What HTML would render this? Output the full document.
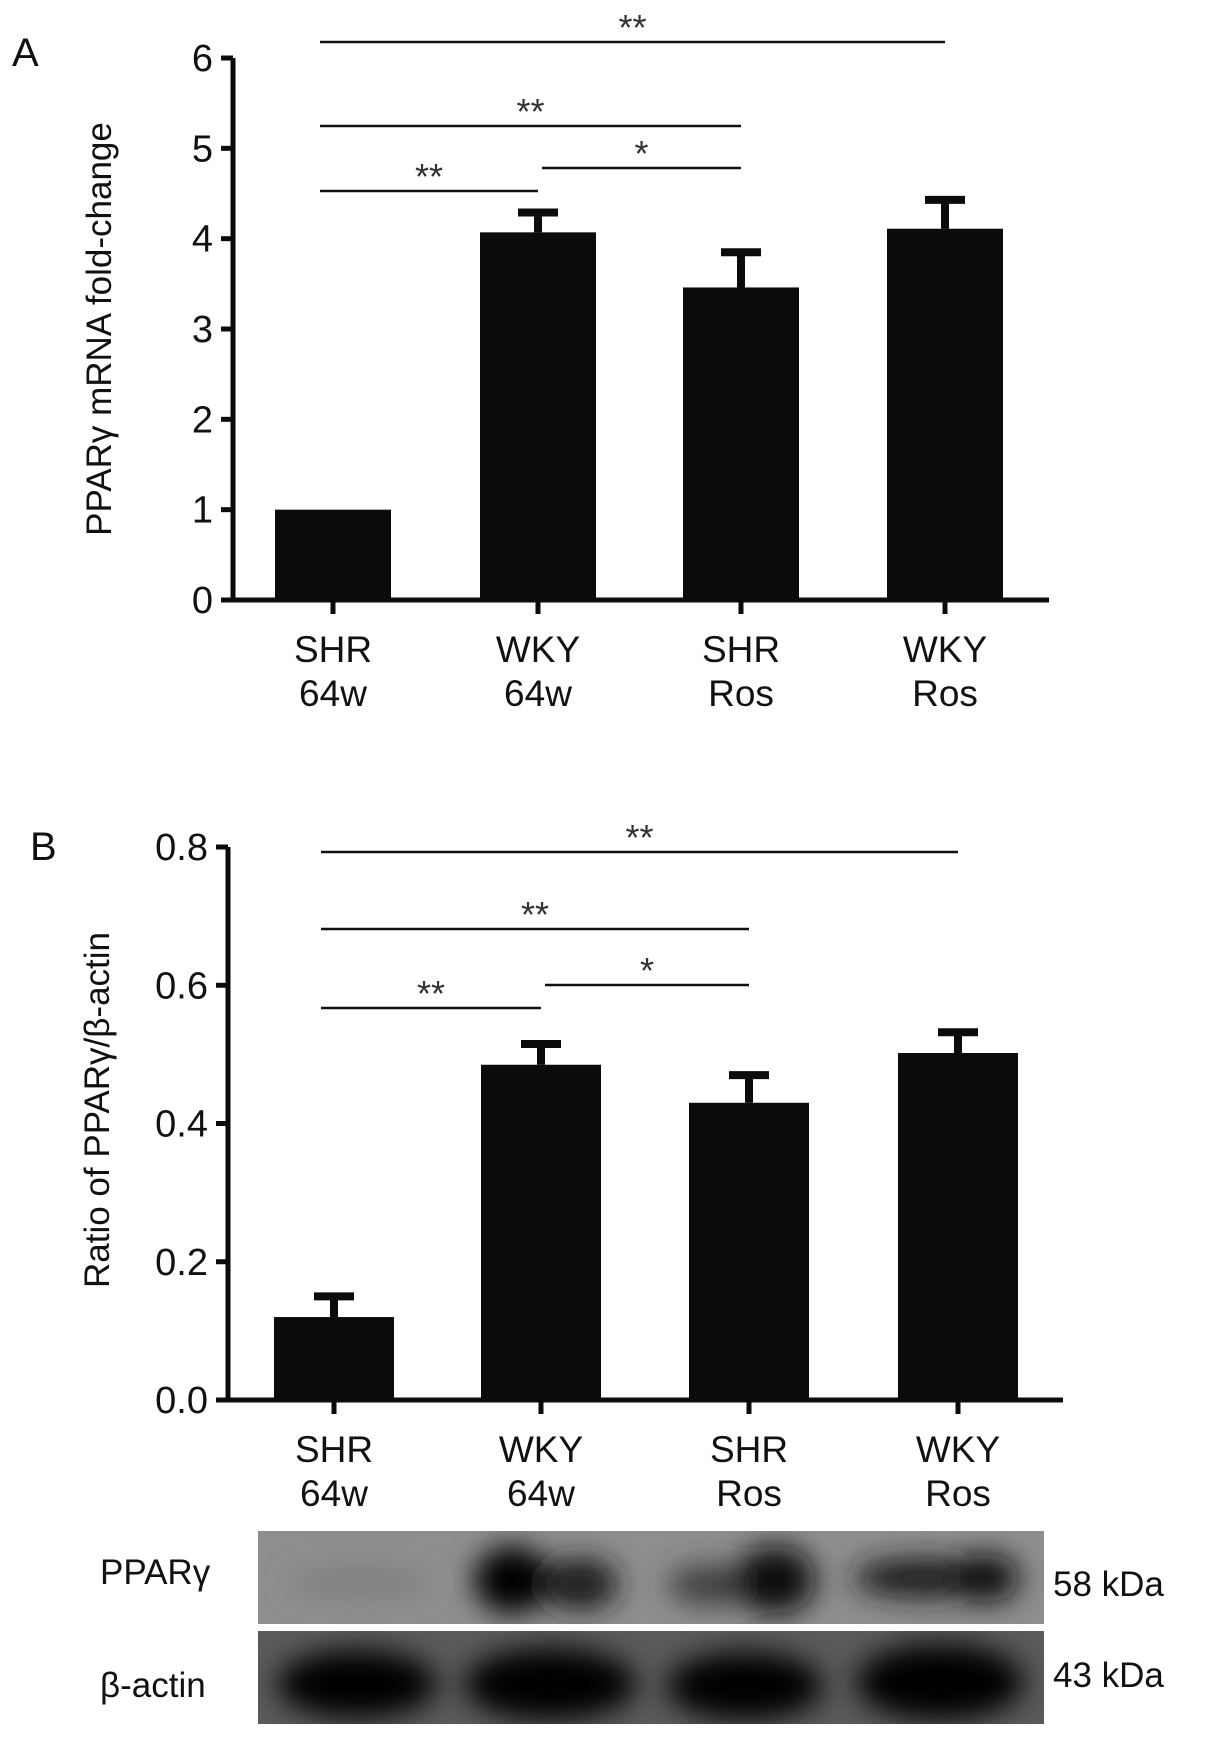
<!DOCTYPE html>
<html><head><meta charset="utf-8">
<style>
html,body{margin:0;padding:0;background:#fff;}
svg{display:block;font-family:"Liberation Sans",sans-serif;}
</style></head>
<body>
<svg id="fig" width="1205" height="1746" viewBox="0 0 1205 1746">
<defs>
<filter id="blur" x="-50%" y="-50%" width="200%" height="200%"><feGaussianBlur stdDeviation="14"/></filter>
<clipPath id="clipTop"><rect x="258" y="1531" width="786" height="93"/></clipPath>
<clipPath id="clipBot"><rect x="258" y="1631" width="786" height="93"/></clipPath>
</defs>
<g id="panelA"></g>
<g id="panelB"></g>
<g id="blot">
  <rect x="258" y="1531" width="786" height="93" fill="#8e8e8e"/>
  <g clip-path="url(#clipTop)">
   <g filter="url(#blur)">
    <ellipse cx="360" cy="1583" rx="70" ry="14" fill="#7e7e7e"/>
    <ellipse cx="512" cy="1580" rx="38" ry="34" fill="#050505"/>
    <ellipse cx="580" cy="1584" rx="38" ry="26" fill="#1a1a1a"/>
    <ellipse cx="712" cy="1585" rx="44" ry="20" fill="#3c3c3c"/>
    <ellipse cx="775" cy="1580" rx="40" ry="34" fill="#080808"/>
    <ellipse cx="925" cy="1578" rx="72" ry="20" fill="#1a1a1a"/>
    <ellipse cx="985" cy="1578" rx="34" ry="24" fill="#0c0c0c"/>
   </g>
  </g>
  <rect x="258" y="1631" width="786" height="93" fill="#5a5a5a"/>
  <g clip-path="url(#clipBot)">
   <g filter="url(#blur)">
    <ellipse cx="357" cy="1684" rx="80" ry="34" fill="#050505"/>
    <ellipse cx="550" cy="1684" rx="86" ry="36" fill="#050505"/>
    <ellipse cx="745" cy="1686" rx="78" ry="34" fill="#060606"/>
    <ellipse cx="940" cy="1682" rx="84" ry="38" fill="#040404"/>
   </g>
  </g>
  <text x="100" y="1584" font-size="35" fill="#111">PPARγ</text>
  <text x="100" y="1697" font-size="35" fill="#111">β-actin</text>
  <text x="1053" y="1596" font-size="35" fill="#111">58 kDa</text>
  <text x="1053" y="1687" font-size="35" fill="#111">43 kDa</text>
</g>
</svg>
<script>
const categoriesTop = ["SHR","WKY","SHR","WKY"];
const categoriesBottom = ["64w","64w","Ros","Ros"];
const valuesA = [1.0, 4.07, 3.46, 4.11];
const errA = [0.0, 0.22, 0.39, 0.32];
const ticksA = ["0","1","2","3","4","5","6"];
const tickValsA = [0,1,2,3,4,5,6];
const valuesB = [0.12, 0.485, 0.43, 0.502];
const errB = [0.03, 0.03, 0.04, 0.03];
const ticksB = ["0.0","0.2","0.4","0.6","0.8"];
const tickValsB = [0,0.2,0.4,0.6,0.8];
const sigA = [[0,3,"**"],[0,2,"**"],[1,2,"*"],[0,1,"**"]];
const sigB = [[0,3,"**"],[0,2,"**"],[1,2,"*"],[0,1,"**"]];

const NS = "http://www.w3.org/2000/svg";
function mk(parent, tag, attrs){
  const e = document.createElementNS(NS, tag);
  for (const k in attrs) e.setAttribute(k, attrs[k]);
  parent.appendChild(e);
  return e;
}

function drawPanel(g, cfg){
  const y = v => cfg.base - v / cfg.max * (cfg.base - cfg.top);
  const x = i => cfg.centers[i];
  cfg.values.forEach((v,i)=>{
    const r = mk(g,"rect",{x:x(i)-cfg.bw/2, y:y(v), width:cfg.bw, height:cfg.base-y(v), fill:"#0b0b0b"});
    
    
    if (cfg.err[i] > 0){
      const e = mk(g,"path",{d:`M${x(i)} ${y(v)} V${y(v+cfg.err[i])} M${x(i)-20} ${y(v+cfg.err[i])} H${x(i)+20}`, stroke:"#0b0b0b", "stroke-width":8, fill:"none"});
      
      
    }
  });
  const ax = mk(g,"path",{d:`M${cfg.ax} ${cfg.top} V${cfg.base} H${cfg.axEnd}`, stroke:"#0b0b0b","stroke-width":5,fill:"none"});
  
  
  cfg.tickVals.forEach((t,i)=>{
    const tk = mk(g,"line",{x1:cfg.ax-12,x2:cfg.ax,y1:y(t),y2:y(t),stroke:"#0b0b0b","stroke-width":5});
    
    
    const tl = mk(g,"text",{x:cfg.ax-20,y:y(t)+13,"text-anchor":"end","font-size":38,fill:"#111"});
    tl.textContent = cfg.ticks[i];
    
    
  });
  cfg.centers.forEach((c,i)=>{
    const tk = mk(g,"line",{x1:c,x2:c,y1:cfg.base,y2:cfg.base+14,stroke:"#0b0b0b","stroke-width":5});
    
    
    const t1 = mk(g,"text",{x:c,y:cfg.base+62,"text-anchor":"middle","font-size":37,fill:"#111"});
    t1.textContent = categoriesTop[i];
    
    
    const t2 = mk(g,"text",{x:c,y:cfg.base+106,"text-anchor":"middle","font-size":37,fill:"#111"});
    t2.textContent = categoriesBottom[i];
    
    
  });
  cfg.sig.forEach((s,k)=>{
    const ly = cfg.sigY[k];
    const xs = s[0]===1 ? x(1)+4 : x(s[0]) - 13;
    const xe = x(s[1]);
    const l = mk(g,"line",{x1:xs,x2:xe,y1:ly,y2:ly,stroke:"#111","stroke-width":2.5});
    
    
    const st = mk(g,"text",{x:(xs+xe)/2,y:ly-2,"text-anchor":"middle","font-size":36,fill:"#333"});
    st.textContent = s[2];
    
    
  });
  const yl = mk(g,"text",{x:0,y:0,transform:`translate(${cfg.ylx},${cfg.yly}) rotate(-90)`,"text-anchor":"middle","font-size":35,fill:"#111"});
  yl.textContent = cfg.ylabel;
  
  
  const pl = mk(g,"text",{x:cfg.lx,y:cfg.ly,"font-size":40,fill:"#111"});
  pl.textContent = cfg.letter;
  
  
}

drawPanel(document.getElementById("panelA"),{
  values:valuesA, err:errA, ticks:ticksA, tickVals:tickValsA, max:6,
  base:600, top:58, ax:233, axEnd:1049, centers:[333,538,741,945], bw:116,
  sig:sigA, sigY:[42,126,168,191], ylabel:"PPARγ mRNA fold-change", ylx:111, yly:329,
  letter:"A", lx:12, ly:66
});
drawPanel(document.getElementById("panelB"),{
  values:valuesB, err:errB, ticks:ticksB, tickVals:tickValsB, max:0.8,
  base:1400, top:847, ax:228, axEnd:1063, centers:[334,541,749,958], bw:120,
  sig:sigB, sigY:[852,929,985,1008], ylabel:"Ratio of PPARγ/β-actin", ylx:109, yly:1110,
  letter:"B", lx:30, ly:860
});
</script>
</body></html>
